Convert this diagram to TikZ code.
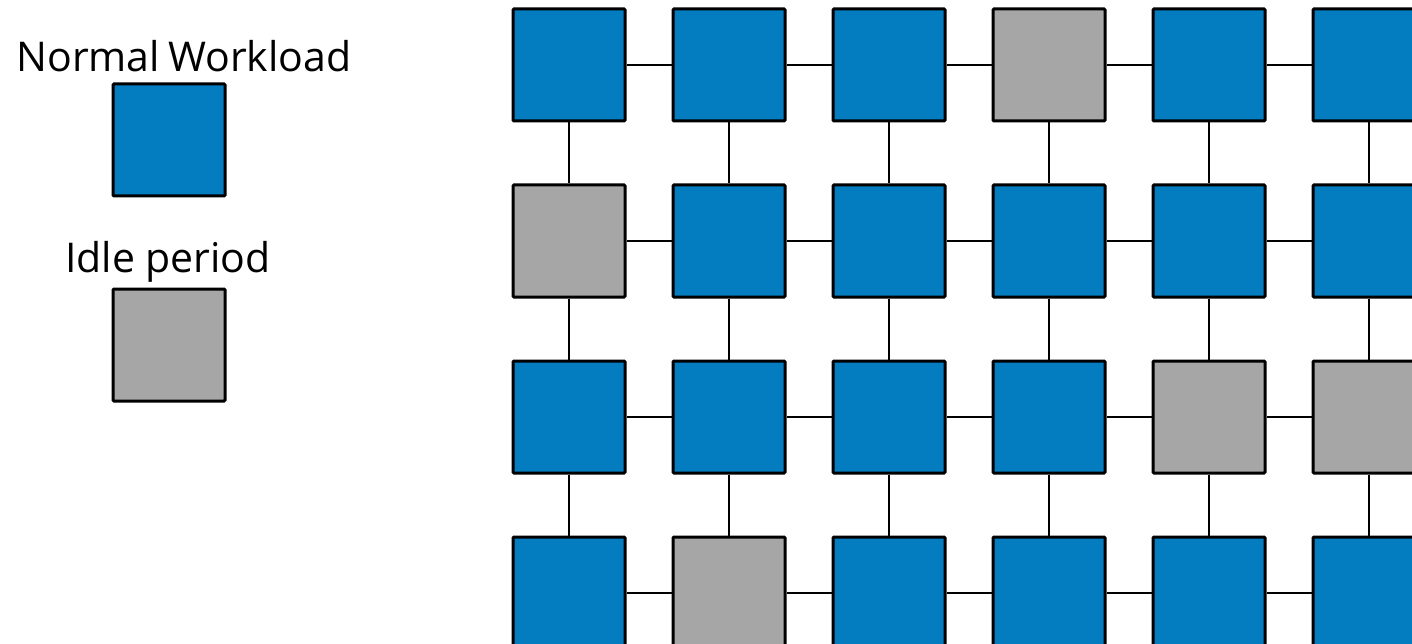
\documentclass[tikz,border=0pt]{standalone}
\usepackage{fontspec}
\setmainfont{Open Sans}
\definecolor{workblue}{RGB}{3,124,192}
\definecolor{idlegray}{RGB}{166,166,166}
\begin{document}
\begin{tikzpicture}[x=1pt,y=-1pt,
  cell/.style={draw=black,line width=3pt,minimum width=112pt,minimum height=112pt,inner sep=0pt,rounded corners=1pt},
  busy/.style={cell,fill=workblue},
  idle/.style={cell,fill=idlegray},
  link/.style={draw=black,line width=2pt},
  lbl/.style={font=\fontsize{41}{48}\selectfont,inner sep=0pt,anchor=base}]
\useasboundingbox (0,0) rectangle (1412,644);
\clip (0,0) rectangle (1412,644);
% legend
\node[lbl] (tnormal) at (184,72) {Normal\hspace{0.2em}Workload};
\node[busy] (lnormal) at (169,140) {};
\node[lbl] (tidle) at (168,272) {Idle period};
\node[idle] (lidle) at (169,345) {};
% grid
\foreach \r/\row in {0/{b,b,b,g,b,b},1/{g,b,b,b,b,b},2/{b,b,b,b,g,g},3/{b,g,b,b,b,b}}{
  \foreach \t [count=\c from 0] in \row {
    \pgfmathsetmacro{\xx}{569+160*\c}
    \pgfmathsetmacro{\yy}{65+176*\r}
    \if b\t
      \node[busy] (n\r-\c) at (\xx,\yy) {};
    \else
      \node[idle] (n\r-\c) at (\xx,\yy) {};
    \fi
  }
}
\foreach \r in {0,...,3}{
  \foreach \c [evaluate=\c as \d using int(\c+1)] in {0,...,4}{
    \draw[link] (n\r-\c.east) -- (n\r-\d.west);
  }
}
\foreach \r [evaluate=\r as \s using int(\r+1)] in {0,1,2}{
  \foreach \c in {0,...,5}{
    \draw[link] (n\r-\c.south) -- (n\s-\c.north);
  }
}
\end{tikzpicture}
\end{document}
